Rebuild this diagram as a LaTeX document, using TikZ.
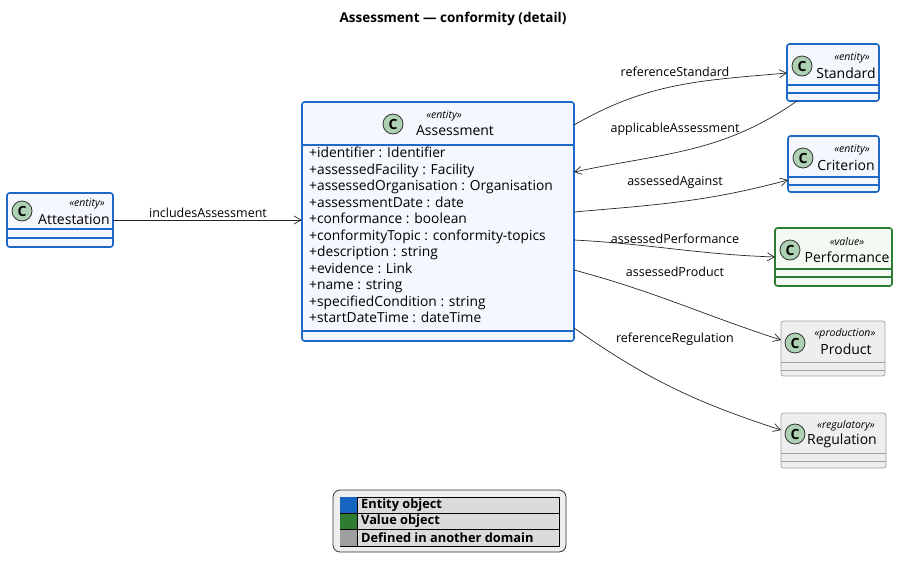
\documentclass[tikz,border=0pt]{standalone}
\usepackage{fontspec}
\setmainfont{Open Sans}
\usetikzlibrary{arrows.meta}
\definecolor{entb}{HTML}{1F6AC6}\definecolor{entf}{HTML}{F4F7FD}
\definecolor{valb}{HTML}{2F7D34}\definecolor{valf}{HTML}{F3FAF3}
\definecolor{othb}{HTML}{A0A0A0}\definecolor{othf}{HTML}{EEEEEE}
\definecolor{icon}{HTML}{ADD1B2}
\definecolor{swb}{HTML}{1565C0}\definecolor{swg}{HTML}{2E7D32}\definecolor{swy}{HTML}{9E9E9E}
\tikzset{
 ent/.style={draw=entb,fill=entf,line width=1.6pt,rounded corners=2.5pt},
 val/.style={draw=valb,fill=valf,line width=1.6pt,rounded corners=2.5pt},
 oth/.style={draw=othb,fill=othf,line width=0.7pt,rounded corners=2.5pt},
 icn/.style={circle,draw=black!80,fill=icon,line width=0.8pt,minimum size=20pt,inner sep=0pt,font=\bfseries\fontsize{14}{14}\selectfont},
 ster/.style={font=\itshape\fontsize{10.5}{11}\selectfont,inner sep=0pt},
 ttl/.style={font=\fontsize{14}{15}\selectfont,inner sep=0pt},
 attr/.style={font=\fontsize{13.8}{16.5}\selectfont,align=left,anchor=north west,inner sep=0pt},
 lbl/.style={font=\fontsize{12.5}{13}\selectfont,inner sep=0pt},
 conn/.style={-{Straight Barb[length=7pt,width=8pt]},line width=0.7pt,black!85},
}
\begin{document}
\begin{tikzpicture}[x=1pt,y=-1pt]
\useasboundingbox (0,0) rectangle (906,571);
\node[font=\bfseries\fontsize{13.5}{14}\selectfont] (title) at (453,19) {Assessment — conformity (detail)};
\newcommand\mycls[9]{%
 \path[#2] (#3,#4) rectangle (#5,#6);
 \coordinate (#1) at ({(#3+#5)/2},{(#4+#6)/2});
 \node[minimum width={#5-#3},minimum height={#6-#4},inner sep=0pt] (#1box) at (#1) {};
 \draw[#2,fill=none,rounded corners=0] (#3,#7) -- (#5,#7) (#3,#8) -- (#5,#8);
 #9}
\mycls{att}{ent}{7}{193}{113}{247}{229}{238}{%
 \node[icn] (atti) at (22,211) {C};
 \node[ster] (atts) at (87,204) {«entity»};
 \node[ttl] (attt) at (74,219) {Attestation};}
\mycls{ass}{ent}{302}{102}{574}{341}{145}{331}{%
 \node[icn] (assi) at (393,124) {C};
 \node[ster] (asss) at (444,116) {«entity»};
 \node[ttl] (asst) at (455,131) {Assessment};
 \node[attr] (assa) at (309,147) {+identifier : Identifier\\+assessedFacility : Facility\\+assessedOrganisation : Organisation\\+assessmentDate : date\\+conformance : boolean\\+conformityTopic : conformity-topics\\+description : string\\+evidence : Link\\+name : string\\+specifiedCondition : string\\+startDateTime : dateTime};}
\mycls{std}{ent}{787}{44}{879}{101}{85}{93}{%
 \node[icn] (stdi) at (802,66) {C};
 \node[ster] (stds) at (852,58) {«entity»};
 \node[ttl] (stdt) at (846,73) {Standard};}
\mycls{cri}{ent}{788}{136}{879}{192}{177}{185}{%
 \node[icn] (crii) at (803,158) {C};
 \node[ster] (cris) at (852,150) {«entity»};
 \node[ttl] (crit) at (846,165) {Criterion};}
\mycls{per}{val}{775}{228}{892}{286}{269}{277}{%
 \node[icn] (peri) at (790,250) {C};
 \node[ster] (pers) at (847,242) {«value»};
 \node[ttl] (pert) at (847,257) {Performance};}
\mycls{pro}{oth}{781}{321}{885}{376}{362}{370}{%
 \node[icn] (proi) at (795,343) {C};
 \node[ster] (pros) at (845,334) {«production»};
 \node[ttl] (prot) at (846,349) {Product};}
\mycls{reg}{oth}{781}{413}{886}{468}{453}{461}{%
 \node[icn] (regi) at (795,434) {C};
 \node[ster] (regs) at (846,426) {«regulatory»};
 \node[ttl] (regt) at (842,441) {Regulation};}
\coordinate (a1) at (574,125); \coordinate (s1) at (787,73);
\coordinate (s2) at (797,101); \coordinate (a2) at (574,172);
\coordinate (a3) at (574,212); \coordinate (c1) at (788,180);
\coordinate (a4) at (574,240); \coordinate (p1) at (775,257);
\coordinate (a5) at (574,270); \coordinate (r1) at (781,340);
\coordinate (a6) at (574,328); \coordinate (g1) at (781,430);
\draw[conn] (attbox.east |- 0,220) -- (assbox.west |- 0,220);
\node[lbl] (l0) at (208,213) {includesAssessment};
\draw[conn] (a1) to[out=30,in=185] (s1);
\node[lbl] (l1) at (675,72) {referenceStandard};
\draw[conn] (s2) to[out=215,in=12] (a2);
\node[lbl] (l2) at (675,129) {applicableAssessment};
\draw[conn] (a3) to[out=5,in=195] (c1);
\node[lbl] (l3) at (675,182) {assessedAgainst};
\draw[conn] (a4) to[out=-3,in=178] (p1);
\node[lbl] (l4) at (675,239) {assessedPerformance};
\draw[conn] (a5) to[out=-15,in=162] (r1);
\node[lbl] (l5) at (675,272) {assessedProduct};
\draw[conn] (a6) to[out=-35,in=162] (g1);
\node[lbl] (l6) at (675,339) {referenceRegulation};
\draw[draw=black!80,fill=othf,line width=0.8pt,rounded corners=7pt] (333,490) rectangle (566,552);
\node[draw=black,fill=black!14,line width=0.6pt,minimum width=219pt,minimum height=49pt,inner sep=0pt,anchor=north west] (leg) at (340,497) {};
\fill[swb] (340.3,497.3) rectangle (356.7,512.7);
\fill[swg] (340.3,513.3) rectangle (356.7,528.7);
\fill[swy] (340.3,529.3) rectangle (356.7,545.7);
\draw[line width=0.6pt] (340,513) -- (559,513) (340,529) -- (559,529) (357,497) -- (357,546);
\node[font=\bfseries\fontsize{12.8}{13}\selectfont,anchor=west,inner sep=0pt] (le1) at (361,505.5) {Entity object};
\node[font=\bfseries\fontsize{12.8}{13}\selectfont,anchor=west,inner sep=0pt] (le2) at (361,521.5) {Value object};
\node[font=\bfseries\fontsize{12.8}{13}\selectfont,anchor=west,inner sep=0pt] (le3) at (361,538) {Defined in another domain};
\end{tikzpicture}
\end{document}
